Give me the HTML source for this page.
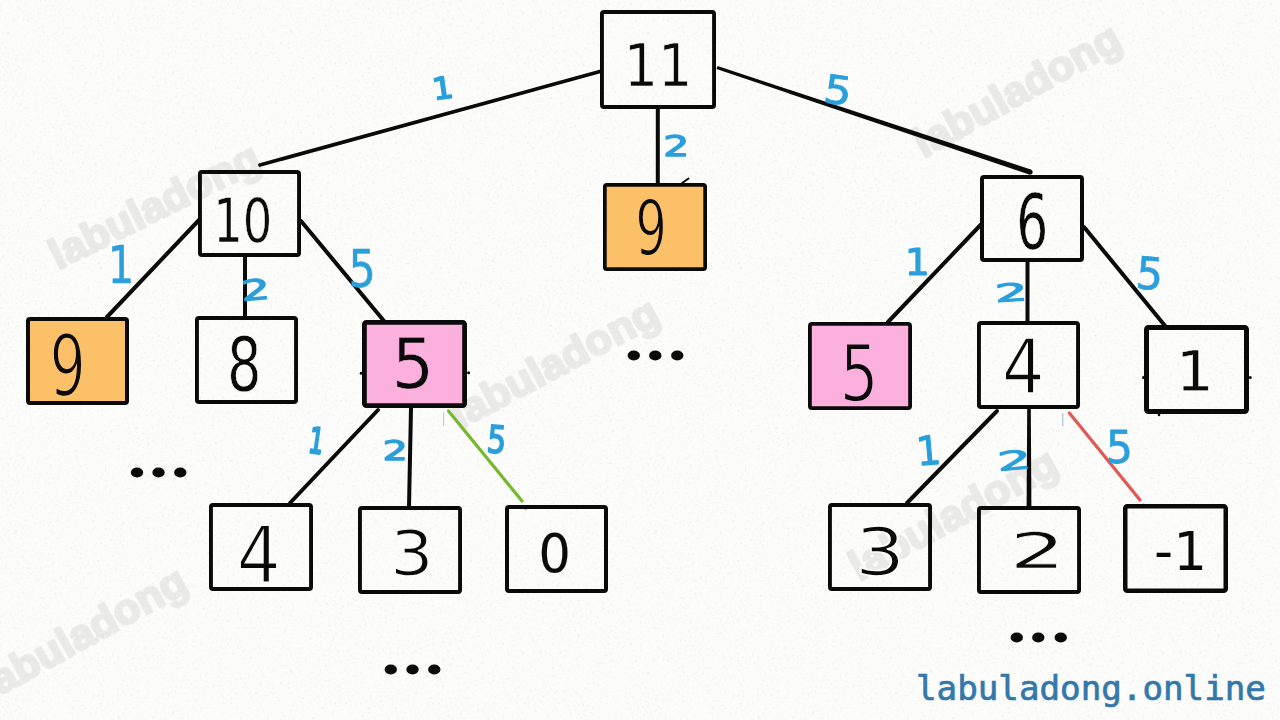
<!DOCTYPE html>
<html lang="en">
<head>
<meta charset="utf-8">
<title>labuladong.online</title>
<style>
html,body{margin:0;padding:0;background:#fcfcfb;width:1280px;height:720px;overflow:hidden}
svg{display:block}
.n{font-family:"DejaVu Sans","Liberation Sans",sans-serif;font-size:100px;fill:#0a0a0a}
.b{font-family:"DejaVu Sans","Liberation Sans",sans-serif;font-size:100px;fill:#2a9fdc;stroke-linejoin:round}
.wm{font-family:"Liberation Sans",sans-serif;font-weight:bold;font-size:43px;fill:#d0d0d0;stroke:#d0d0d0;stroke-width:2.5px;stroke-linejoin:round;opacity:.4;text-anchor:middle}
.d{font-family:"Liberation Serif","DejaVu Serif",serif;font-weight:bold;font-size:100px;fill:#0a0a0a}
.site{font-family:"DejaVu Sans Mono","Liberation Mono",monospace;font-size:34.2px;fill:#3278ab;stroke:#3278ab;stroke-width:.7px}
</style>
</head>
<body>
<svg width="1280" height="720" viewBox="0 0 1280 720">
<defs><filter id="paper" x="0" y="0" width="100%" height="100%"><feTurbulence type="fractalNoise" baseFrequency="0.4" numOctaves="2" seed="7" result="t"/><feColorMatrix in="t" type="matrix" values="0 0 0 0 0.55  0 0 0 0 0.55  0 0 0 0 0.55  2.5 0 0 0 -1.45"/></filter></defs>
<rect width="1280" height="720" fill="#fcfcfb"/>
<rect width="1280" height="720" filter="url(#paper)" opacity="0.3"/>
<g class="wm">
<text transform="translate(161 219) rotate(-26.5)">labuladong</text>
<text transform="translate(1024 103) rotate(-29)">labuladong</text>
<text transform="translate(561 376) rotate(-28)">labuladong</text>
<text transform="translate(960 527) rotate(-28.5)">labuladong</text>
<text transform="translate(90 646) rotate(-29)">labuladong</text>
</g>
<g stroke-linecap="round">
<line x1="600" y1="71.5" x2="260" y2="165" stroke="#0a0a0a" stroke-width="3.7"/>
<polygon points="716.48,69.07 1029.18,174.47 1030.82,169.53 717.52,65.93" fill="#0a0a0a"/>
<circle cx="1030" cy="172" r="2.6" fill="#0a0a0a"/>
<line x1="657.8" y1="109" x2="657.8" y2="184" stroke="#0a0a0a" stroke-width="4"/>
<line x1="199.5" y1="219.5" x2="107" y2="317" stroke="#0a0a0a" stroke-width="4"/>
<line x1="245" y1="257" x2="245" y2="317" stroke="#0a0a0a" stroke-width="4"/>
<line x1="301" y1="221" x2="384" y2="321" stroke="#0a0a0a" stroke-width="4"/>
<line x1="981" y1="224.5" x2="888" y2="322" stroke="#0a0a0a" stroke-width="4"/>
<line x1="1027.5" y1="262" x2="1027.5" y2="322" stroke="#0a0a0a" stroke-width="4"/>
<line x1="1084" y1="227" x2="1166" y2="327" stroke="#0a0a0a" stroke-width="4"/>
<line x1="378" y1="410" x2="290" y2="503" stroke="#0a0a0a" stroke-width="4"/>
<line x1="411" y1="408" x2="409" y2="507" stroke="#0a0a0a" stroke-width="4"/>
<line x1="448.5" y1="411" x2="522" y2="501" stroke="#78b830" stroke-width="3.3"/>
<line x1="997" y1="411" x2="907" y2="503" stroke="#0a0a0a" stroke-width="4"/>
<polygon points="1027.20,409.00 1026.60,507.00 1031.40,507.00 1030.80,409.00" fill="#0a0a0a"/>
<circle cx="1029" cy="507" r="2.4" fill="#0a0a0a"/>
<line x1="1069.4" y1="413" x2="1140" y2="500" stroke="#e05a55" stroke-width="3.3"/>
</g>
<line x1="443.7" y1="412" x2="443.7" y2="426" stroke="#bdbdbd" stroke-width="1"/>
<line x1="1062.8" y1="413" x2="1062.8" y2="426" stroke="#9fb7c6" stroke-width="1"/>
<line x1="681.5" y1="183.5" x2="688.5" y2="178.5" stroke="#0a0a0a" stroke-width="2" stroke-linecap="round"/>
<g stroke="#0a0a0a" stroke-linejoin="round">
<rect x="601.95" y="11.95" width="112.1" height="95.1" rx="2" fill="none" stroke-width="3.9"/>
<rect x="199.95" y="171.95" width="99.1" height="83.1" rx="2" fill="none" stroke-width="3.9"/>
<rect x="604.85" y="184.85" width="100.3" height="84.3" rx="2" fill="#fcc068" stroke-width="3.7"/>
<rect x="982" y="177" width="100" height="83" rx="2" fill="none" stroke-width="4"/>
<rect x="28" y="319" width="99" height="84" rx="2" fill="#fcc068" stroke-width="4"/>
<rect x="196.95" y="317.95" width="99.1" height="84.1" rx="2" fill="none" stroke-width="3.9"/>
<rect x="364.4" y="322.4" width="100.2" height="83.2" rx="2" fill="#fcb0de" stroke-width="4.8"/>
<rect x="809.9" y="323.9" width="100.2" height="84.2" rx="2" fill="#fcb0de" stroke-width="3.8"/>
<rect x="978.95" y="322.95" width="99.1" height="84.1" rx="2" fill="none" stroke-width="3.9"/>
<rect x="1146.5" y="327.5" width="100" height="84" rx="2" fill="none" stroke-width="5"/>
<rect x="210.95" y="504.95" width="100.1" height="84.1" rx="2" fill="none" stroke-width="3.9"/>
<rect x="359.95" y="507.95" width="100.1" height="84.1" rx="2" fill="none" stroke-width="3.9"/>
<rect x="507" y="507" width="99" height="84" rx="2" fill="none" stroke-width="4"/>
<rect x="829.95" y="504.95" width="100.1" height="84.1" rx="2" fill="none" stroke-width="3.9"/>
<rect x="978.95" y="507.95" width="100.1" height="84.1" rx="2" fill="none" stroke-width="3.9"/>
<rect x="1125.25" y="506.25" width="100.5" height="84.5" rx="2" fill="none" stroke-width="4.5"/>
</g>
<g fill="#0a0a0a">
<circle cx="361.2" cy="373.3" r="1.5"/>
<circle cx="468.6" cy="372.8" r="1.5"/>
<circle cx="1143.6" cy="377.5" r="1.6"/>
<circle cx="1250.2" cy="377.5" r="1.6"/>
<circle cx="1159" cy="415" r="1.3"/>
<circle cx="525.8" cy="507.2" r="2.2"/>
<circle cx="1143.3" cy="506" r="2.2"/>
</g>
<g class="n">
<text transform="translate(623.76 85.65) scale(0.5387 0.5959)" stroke="#fcfcfb" stroke-width="1.18">11</text>
<text transform="translate(213.37 242.40) scale(0.4636 0.6041)" stroke="#fcfcfb" stroke-width="1.01">10</text>
<text transform="translate(635.16 255.28) scale(0.4983 0.7596)" stroke="#fcc068" stroke-width="2.43">9</text>
<text transform="translate(1016.27 249.17) scale(0.5033 0.7634)" stroke="#fcfcfb" stroke-width="0.83">6</text>
<text transform="translate(49.52 395.87) scale(0.5707 0.8515)" stroke="#fcc068" stroke-width="2.69">9</text>
<text transform="translate(226.91 390.99) scale(0.5418 0.7486)" stroke="#fcfcfb" stroke-width="1.09">8</text>
<text transform="translate(391.69 387.98) scale(0.6658 0.7028)" stroke="#fcb0de" stroke-width="0.94">5</text>
<text transform="translate(839.70 400.76) scale(0.6097 0.7766)" stroke="#fcb0de" stroke-width="2.39">5</text>
<text transform="translate(1001.93 392.81) scale(0.6688 0.7482)" stroke="#fcfcfb" stroke-width="2.16">4</text>
<text transform="translate(1175.71 389.91) scale(0.5967 0.5537)" stroke="#fcfcfb" stroke-width="0.76">1</text>
<text transform="translate(236.72 583.43) scale(0.6914 0.7788)" stroke="#fcfcfb" stroke-width="2.38">4</text>
<text transform="translate(390.10 574.74) scale(0.6874 0.6314)" stroke="#fcfcfb" stroke-width="2.17">3</text>
<text transform="translate(538.49 572.10) scale(0.5074 0.5406)" stroke="#0a0a0a" stroke-width="0.35">0</text>
<text transform="translate(854.77 574.51) scale(0.7963 0.6568)" stroke="#fcfcfb" stroke-width="2.42">3</text>
<text transform="translate(1009.47 567.85) scale(0.8815 0.4891)" stroke="#fcfcfb" stroke-width="1.41">2</text>
<text transform="translate(1154.00 570.05) scale(0.5310 0.5356)" stroke="#fcfcfb" stroke-width="0.19">-1</text>
</g>
<g class="b">
<text transform="rotate(-8 443.0 87.5) translate(432.41 98.52) scale(0.3232 0.3019)" stroke="#2a9fdc" stroke-width="5.52">1</text>
<text transform="rotate(8 837.8 90.0) translate(824.15 104.09) scale(0.4367 0.3942)" stroke="#2a9fdc" stroke-width="2.13">5</text>
<text transform="translate(663.14 155.96) scale(0.4103 0.2881)" stroke="#2a9fdc" stroke-width="4.45">2</text>
<text transform="translate(107.65 283.32) scale(0.4169 0.5114)" stroke="#2a9fdc" stroke-width="1.11">1</text>
<text transform="rotate(-5 255.0 289.4) translate(241.16 299.77) scale(0.4539 0.2816)" stroke="#2a9fdc" stroke-width="4.12">2</text>
<text transform="translate(348.60 286.99) scale(0.4289 0.5073)" stroke="#2a9fdc" stroke-width="1.00">5</text>
<text transform="translate(904.86 274.94) scale(0.3951 0.3654)" stroke="#2a9fdc" stroke-width="3.08">1</text>
<text transform="rotate(-4 1010.5 292.2) translate(994.80 301.21) scale(0.5149 0.2435)" stroke="#2a9fdc" stroke-width="4.76">2</text>
<text transform="rotate(5 1149.5 273.3) translate(1136.12 289.20) scale(0.4280 0.4449)" stroke="#2a9fdc" stroke-width="1.61">5</text>
<text transform="rotate(8 316.6 440.3) translate(309.12 453.11) scale(0.2299 0.3511)" stroke="#2a9fdc" stroke-width="7.22">1</text>
<text transform="translate(382.68 460.10) scale(0.3924 0.2689)" stroke="#2a9fdc" stroke-width="5.23">2</text>
<text transform="rotate(5 496.6 439.4) translate(487.10 452.96) scale(0.3024 0.3792)" stroke="#2a9fdc" stroke-width="4.53">5</text>
<text transform="rotate(-5 928.8 450.1) translate(916.16 464.78) scale(0.3858 0.4009)" stroke="#2a9fdc" stroke-width="2.69">1</text>
<text transform="rotate(-5 1013.4 459.9) translate(997.02 469.50) scale(0.5371 0.2594)" stroke="#2a9fdc" stroke-width="4.04">2</text>
<text transform="translate(1105.99 462.56) scale(0.4226 0.4409)" stroke="#2a9fdc" stroke-width="1.71">5</text>
</g>
<g class="d">
<text transform="translate(127.47 477.08) scale(0.7625 0.6154)" x="0.00 28.33 56.92" y="0">...</text>
<text transform="translate(624.27 360.28) scale(0.7625 0.6154)" x="0.00 28.20 57.05" y="0">...</text>
<text transform="translate(381.27 674.28) scale(0.7625 0.6154)" x="0.00 28.59 57.18" y="0">...</text>
<text transform="translate(1007.17 641.78) scale(0.7625 0.6154)" x="0.00 28.46 57.97" y="0">...</text>
</g>
<text class="site" x="916" y="699.8">labuladong.online</text>
</svg>
</body>
</html>
